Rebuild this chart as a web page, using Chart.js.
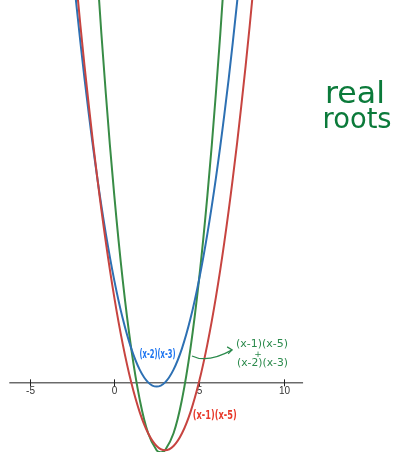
<!DOCTYPE html>
<html>
<head>
<meta charset="utf-8">
<script src="https://cdn.jsdelivr.net/npm/chart.js@4/dist/chart.umd.min.js"></script>
<style>
  html, body { margin: 0; padding: 0; background: #fff; }
  #box { width: 395px; height: 452px; position: relative; }
</style>
</head>
<body>
<div id="box"><canvas id="grafico"></canvas></div>
<script>
// valores
const xTicks = [-5, 0, 5, 10];

const xVermelho = [-2.5, -2, -1.5, -1, -0.5, 0, 0.5, 1, 1.5, 2, 2.5, 3, 3.5, 4, 4.5, 5, 5.5, 6, 6.5, 7, 7.5, 8, 8.5];
const yVermelho = [26.25, 21, 16.25, 12, 8.25, 5, 2.25, 0, -1.75, -3, -3.75, -4, -3.75, -3, -1.75, 0, 2.25, 5, 8.25, 12, 16.25, 21, 26.25];

const xAzul = [-2.5, -2, -1.5, -1, -0.5, 0, 0.5, 1, 1.5, 2, 2.5, 3, 3.5, 4, 4.5, 5, 5.5, 6, 6.5, 7, 7.5];
const yAzul = [24.75, 20, 15.75, 12, 8.75, 6, 3.75, 2, 0.75, 0, -0.25, 0, 0.75, 2, 3.75, 6, 8.75, 12, 15.75, 20, 24.75];

const xVerde = [-1.5, -1, -0.5, 0, 0.5, 1, 1.5, 2, 2.5, 2.75, 3, 3.5, 4, 4.5, 5, 5.5, 6, 6.5, 7];
const yVerde = [32, 24, 17, 11, 6, 2, -1, -3, -4, -4.125, -4, -3, -1, 2, 6, 11, 17, 24, 32];

function pontos(xs, ys) {
  return xs.map((x, i) => ({ x: x, y: ys[i] }));
}

// anotações escritas à mão (posição em unidades do gráfico)
const notas = [
  { texto: "(x-2)(x-3)", x: 2.55, y: 1.61, larg: 36, tam: 12, peso: "bold", cor: "#1a73f0" },
  { texto: "(x-1)(x-5)", x: 5.93, y: -1.98, larg: 44, tam: 13, peso: "bold", cor: "#e8392b" },
  { texto: "(x-1)(x-5)", x: 8.72, y: 2.25, larg: 52, tam: 11, peso: "normal", cor: "#2b8a4c" },
  { texto: "+", x: 8.49, y: 1.63, larg: 0, tam: 9, peso: "normal", cor: "#2b8a4c" },
  { texto: "(x-2)(x-3)", x: 8.75, y: 1.1, larg: 51, tam: 11, peso: "normal", cor: "#2b8a4c" },
  { texto: "real", x: 14.22, y: 16.92, larg: 60, tam: 30, peso: "normal", cor: "#0b7a3a" },
  { texto: "roots", x: 14.34, y: 15.39, larg: 69, tam: 28, peso: "normal", cor: "#0b7a3a" }
];

const eixoPlugin = {
  id: "eixo",
  beforeDatasetsDraw(chart) {
    const ctx = chart.ctx;
    const sx = chart.scales.x;
    const sy = chart.scales.y;
    const y0 = sy.getPixelForValue(0);
    ctx.save();
    ctx.strokeStyle = "#222";
    ctx.lineWidth = 1;
    ctx.beginPath();
    ctx.moveTo(sx.getPixelForValue(-6.2), y0 + 0.5);
    ctx.lineTo(sx.getPixelForValue(11.15), y0 + 0.5);
    ctx.stroke();
    ctx.fillStyle = "#333";
    ctx.font = "10px 'Liberation Sans', Arial, sans-serif";
    ctx.textAlign = "center";
    ctx.textBaseline = "top";
    xTicks.forEach(t => {
      const px = Math.round(sx.getPixelForValue(t)) + 0.5;
      ctx.beginPath();
      ctx.moveTo(px, y0 - 3);
      ctx.lineTo(px, y0 + 4);
      ctx.stroke();
      ctx.fillText(String(t), px, y0 + 4);
    });
    ctx.restore();
  },
  afterDatasetsDraw(chart) {
    const ctx = chart.ctx;
    const sx = chart.scales.x;
    const sy = chart.scales.y;
    ctx.save();
    ctx.textAlign = "center";
    ctx.textBaseline = "middle";
    notas.forEach(n => {
      ctx.font = n.peso + " " + n.tam + "px 'DejaVu Sans', sans-serif";
      ctx.fillStyle = n.cor;
      const px = sx.getPixelForValue(n.x);
      const py = sy.getPixelForValue(n.y);
      const w = ctx.measureText(n.texto).width;
      const esc = n.larg ? n.larg / w : 1;
      ctx.save();
      ctx.translate(px, py);
      ctx.scale(esc, 1);
      ctx.fillText(n.texto, 0, 0);
      ctx.restore();
    });

    // seta verde
    ctx.strokeStyle = "#2b8a4c";
    ctx.lineWidth = 1.2;
    const a = [sx.getPixelForValue(4.59), sy.getPixelForValue(1.55)];
    const c = [sx.getPixelForValue(5.5), sy.getPixelForValue(1.1)];
    const b = [sx.getPixelForValue(6.96), sy.getPixelForValue(1.91)];
    ctx.beginPath();
    ctx.moveTo(a[0], a[1]);
    ctx.quadraticCurveTo(c[0], c[1], b[0], b[1]);
    ctx.stroke();
    ctx.beginPath();
    ctx.moveTo(b[0] - 5, b[1] - 3);
    ctx.lineTo(b[0], b[1]);
    ctx.lineTo(b[0] - 4, b[1] + 4);
    ctx.stroke();
    ctx.restore();
  }
};

const grafico = new Chart(document.getElementById("grafico"), {
  type: "line",
  data: {
    datasets: [
      {
        label: "(x-1)(x-5)",
        data: pontos(xVermelho, yVermelho),
        borderColor: "#c74440",
        borderWidth: 2,
        pointRadius: 0,
        tension: 0.4
      },
      {
        label: "(x-2)(x-3)",
        data: pontos(xAzul, yAzul),
        borderColor: "#2d70b3",
        borderWidth: 2,
        pointRadius: 0,
        tension: 0.4
      },
      {
        label: "soma",
        data: pontos(xVerde, yVerde),
        borderColor: "#388c46",
        borderWidth: 2,
        pointRadius: 0,
        tension: 0.4
      }
    ]
  },
  options: {
    responsive: true,
    maintainAspectRatio: false,
    animation: false,
    layout: { padding: 0 },
    plugins: { legend: { display: false }, tooltip: { enabled: false } },
    scales: {
      x: { type: "linear", min: -6.75, max: 16.58, display: false },
      y: { type: "linear", min: -4.1, max: 22.5, display: false }
    }
  },
  plugins: [eixoPlugin]
});
</script>
</body>
</html>
